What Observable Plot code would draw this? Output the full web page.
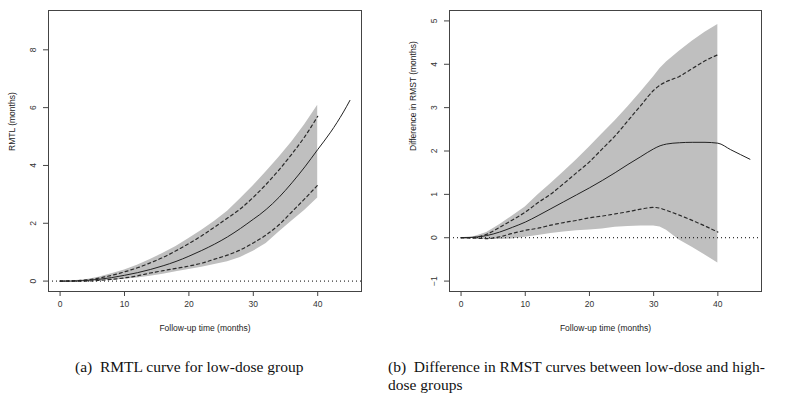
<!DOCTYPE html>
<html>
<head>
<meta charset="utf-8">
<script src="https://cdn.jsdelivr.net/npm/d3@7"></script>
<script src="https://cdn.jsdelivr.net/npm/@observablehq/plot@0.6"></script>
<style>
  html, body { margin: 0; padding: 0; background: #fff; }
  #wrap { position: relative; width: 800px; height: 400px; overflow: hidden; background: #fff; }
  .panel { position: absolute; top: 0; }
  .cap { position: absolute; font-family: "Liberation Serif", "Times New Roman", serif; font-size: 15.5px; line-height: 18px; color: #111; }
</style>
</head>
<body>
<div id="wrap">
  <div id="pa" class="panel" style="left:0px"></div>
  <div id="pb" class="panel" style="left:400px"></div>
  <div class="cap" style="left:75px; top:358px;">(a)&nbsp; RMTL curve for low-dose group</div>
  <div class="cap" style="left:388px; top:358px; width:390px;">(b)&nbsp; Difference in RMST curves between low-dose and high-<br>dose groups</div>
</div>
<script>
// ---------- Panel (a): RMTL for low-dose group ----------
const aEstTime = [0,2,4,6,8,10,12,14,16,18,20,22,24,26,28,30,31,32,34,36,38,40,42,44,45];
const aEst     = [0,0,0.02,0.06,0.12,0.2,0.29,0.4,0.53,0.68,0.86,1.06,1.28,1.53,1.82,2.14,2.3,2.48,2.9,3.4,3.95,4.55,5.15,5.85,6.25];
const aBandTime = [0,2,4,6,8,10,12,14,16,18,20,22,24,26,28,30,32,34,36,38,40];
const aBandHi  = [0,0.01,0.05,0.13,0.25,0.38,0.55,0.75,0.96,1.2,1.47,1.76,2.07,2.42,2.85,3.3,3.78,4.28,4.82,5.42,6.08];
const aBandLo  = [0,0,0,0.01,0.03,0.06,0.11,0.17,0.24,0.32,0.4,0.48,0.57,0.67,0.82,1.03,1.3,1.7,2.08,2.45,2.87];
const aDashHi  = [0,0.01,0.04,0.1,0.2,0.32,0.46,0.63,0.82,1.05,1.3,1.57,1.87,2.18,2.5,2.9,3.35,3.85,4.4,5.0,5.7];
const aDashLo  = [0,0,0,0.02,0.06,0.11,0.18,0.28,0.36,0.44,0.52,0.62,0.76,0.9,1.08,1.32,1.6,1.95,2.4,2.85,3.32];
const aYTicks = [0,2,4,6,8];

// ---------- Panel (b): Difference in RMST ----------
const bEstTime = [0,2,4,6,8,10,12,14,16,18,20,22,24,26,28,30,31,32,34,36,38,40,42,45];
const bEst     = [0,0.01,0.05,0.13,0.24,0.36,0.51,0.67,0.83,0.99,1.15,1.32,1.5,1.69,1.87,2.05,2.12,2.16,2.19,2.2,2.2,2.18,2.03,1.81];
const bBandTime = [0,2,4,6,8,10,12,14,16,18,20,22,24,26,28,30,31,32,34,36,38,40];
const bBandHi  = [0,0.02,0.12,0.3,0.5,0.71,0.99,1.25,1.52,1.8,2.09,2.4,2.7,3.02,3.36,3.71,3.9,4.05,4.3,4.53,4.74,4.92];
const bBandLo  = [0,-0.02,-0.04,-0.04,-0.03,0.01,0.05,0.1,0.13,0.16,0.18,0.2,0.24,0.26,0.27,0.27,0.25,0.17,-0.05,-0.22,-0.4,-0.58];
const bDashHi  = [0,0.01,0.08,0.24,0.41,0.59,0.81,1.01,1.25,1.5,1.75,2.05,2.35,2.7,3.05,3.4,3.52,3.6,3.72,3.9,4.08,4.22];
const bDashLo  = [0,-0.01,-0.02,0.02,0.1,0.17,0.22,0.29,0.35,0.4,0.46,0.5,0.55,0.6,0.66,0.7,0.68,0.63,0.52,0.4,0.27,0.13];
const bYTicks = [-1,0,1,2,3,4,5];

const xTicks = [0,10,20,30,40];
const xLabel = "Follow-up time (months)";

function panel({estTime, est, bandTime, hi, lo, dHi, dLo, yDomain, yTicks, yLabel, marginLeft}) {
  const band = bandTime.map((t, i) => ({t, hi: hi[i], lo: lo[i], dHi: dHi[i], dLo: dLo[i]}));
  const line = estTime.map((t, i) => ({t, v: est[i]}));
  return Plot.plot({
    width: 400, height: 345,
    marginLeft, marginRight: 39, marginTop: 10, marginBottom: 54,
    style: {fontFamily: "'Liberation Sans', Arial, sans-serif", fontSize: "8.5px", color: "#333", background: "transparent"},
    x: {domain: [-1.8, 46.8]},
    y: {domain: yDomain},
    marks: [
      Plot.areaY(band, {x: "t", y1: "lo", y2: "hi", fill: "#bfbfbf", curve: "linear"}),
      Plot.ruleY([0], {stroke: "#000", strokeWidth: 1, strokeDasharray: "1,3"}),
      Plot.lineY(band, {x: "t", y: "dHi", stroke: "#2a2a2a", strokeWidth: 1.2, strokeDasharray: "3,3", curve: "monotone-x"}),
      Plot.lineY(band, {x: "t", y: "dLo", stroke: "#2a2a2a", strokeWidth: 1.2, strokeDasharray: "3,3", curve: "monotone-x"}),
      Plot.lineY(line, {x: "t", y: "v", stroke: "#222", strokeWidth: 1, curve: "monotone-x"}),
      Plot.frame({stroke: "#444", strokeWidth: 1}),
      Plot.axisX({ticks: xTicks, tickSize: 5, tickPadding: 4, tickFormat: d3.format("d"), label: null, stroke: "#444"}),
      Plot.axisY({ticks: yTicks, tickSize: 5, tickPadding: 8, tickRotate: -90, tickFormat: d3.format("d"), label: null, stroke: "#444"}),
      Plot.text([xLabel], {frameAnchor: "bottom", dy: 39, fill: "#222"}),
      Plot.text([yLabel], {frameAnchor: "left", dx: -36, rotate: -90, fill: "#222"})
    ]
  });
}

document.getElementById("pa").appendChild(panel({
  estTime: aEstTime, est: aEst, bandTime: aBandTime, hi: aBandHi, lo: aBandLo, dHi: aDashHi, dLo: aDashLo,
  yDomain: [-0.36, 9.36], yTicks: aYTicks, yLabel: "RMTL (months)", marginLeft: 48
}));
document.getElementById("pb").appendChild(panel({
  estTime: bEstTime, est: bEst, bandTime: bBandTime, hi: bBandHi, lo: bBandLo, dHi: bDashHi, dLo: bDashLo,
  yDomain: [-1.24, 5.24], yTicks: bYTicks, yLabel: "Difference in RMST (months)", marginLeft: 49
}));
</script>
</body>
</html>
